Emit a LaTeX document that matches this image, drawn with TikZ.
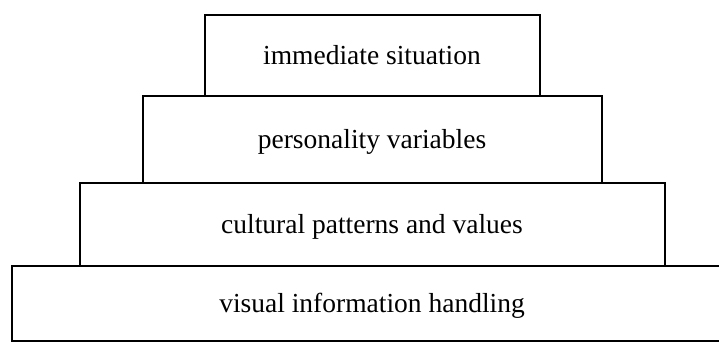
\documentclass[tikz,border=0pt]{standalone}
\usepackage{fontspec}
\setmainfont{Liberation Serif}
\usetikzlibrary{positioning}
\tikzset{%
  layer/.style  = {shape=rectangle, draw, line width=2pt,%
                   inner sep=0pt, outer sep=0pt, align=center,%
                   text height=23pt, text depth=5pt,%
                   font=\fontsize{27.5}{30}\selectfont},%
  base/.style   = {layer, minimum width=720pt, minimum height=75pt},%
  culture/.style= {layer, minimum width=585pt, minimum height=83pt},%
  person/.style = {layer, minimum width=459pt, minimum height=87pt},%
  situ/.style   = {layer, minimum width=335pt, minimum height=81pt}%
}
\begin{document}
\begin{tikzpicture}[x=1pt, y=-1pt, node distance=0pt]%
	\clip (0,0) rectangle (719,343);%
	\node [base] (visual) at (372,303.5) {visual information handling};%
	\node [culture, above=of visual] (cultural) {cultural patterns and values};%
	\node [person, above=of cultural] (personality) {personality variables};%
	\node [situ, above=of personality] (immediate) {immediate situation};%
\end{tikzpicture}
\end{document}
